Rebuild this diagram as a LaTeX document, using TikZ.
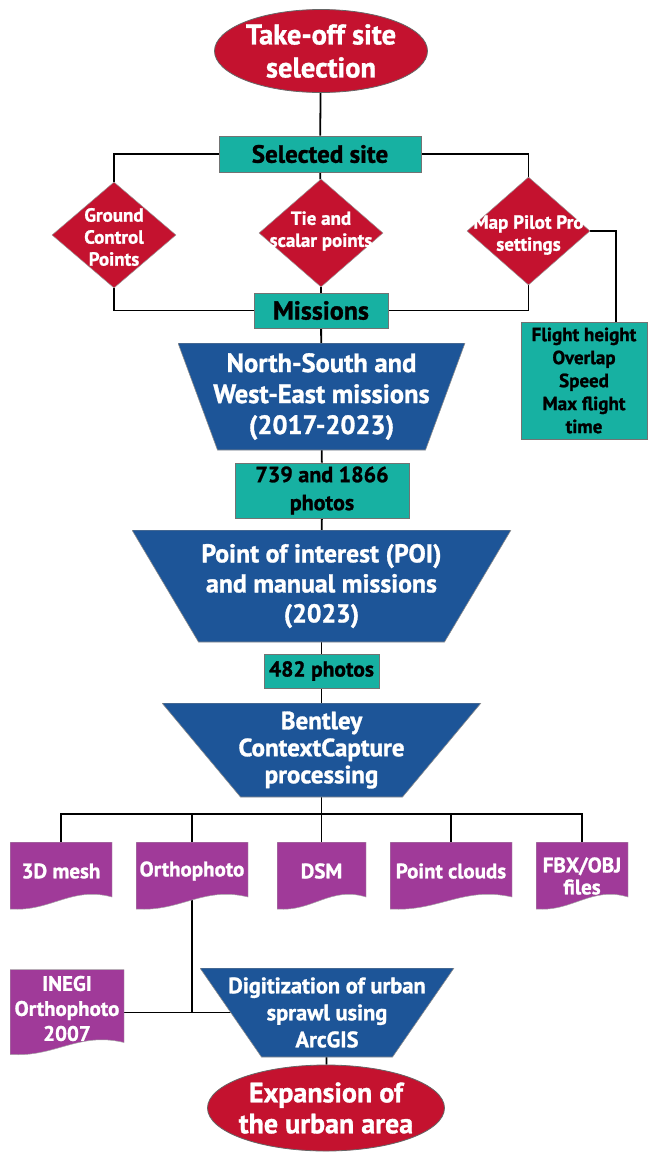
\documentclass[tikz,border=0pt]{standalone}
\usepackage{fontspec}
\setmainfont{PT Sans}[BoldFeatures={FakeBold=1.2}]
\usetikzlibrary{shapes.geometric,calc}
\definecolor{fcred}{HTML}{C4122F}
\definecolor{fcteal}{HTML}{17B1A2}
\definecolor{fcblue}{HTML}{1D5598}
\definecolor{fcpurple}{HTML}{A03A99}
\pgfdeclarelayer{background}
\pgfsetlayers{background,main}
\tikzset{
  fs/.style 2 args={font=\fontsize{#1}{#2}\selectfont\bfseries},
  link/.style={draw=black, line width=1.8pt},
  oval/.style={ellipse, fill=fcred, draw=black!60, line width=0.8pt, inner sep=0pt},
  otext/.style={text=white, align=center, inner sep=0pt},
  tealbox/.style={rectangle, fill=fcteal, draw=black!55, line width=0.7pt, text=black,
    align=center, inner sep=0pt},
  dia/.style={diamond, fill=fcred, draw=black!40, line width=0.5pt, inner sep=0pt},
  dtext/.style={text=white, align=center, inner sep=0pt, fs={19}{22}},
  funnel/.style={rectangle, inner sep=0pt, text=white, align=center,
    path picture={\path[fill=fcblue, draw=black!45, line width=0.6pt]
      (path picture bounding box.north west) -- (path picture bounding box.north east)
      -- ($(path picture bounding box.south east)+(-#1,0)$)
      -- ($(path picture bounding box.south west)+(#1,0)$) -- cycle;}},
  doc/.style={rectangle, inner sep=0pt,
    path picture={\path[fill=fcpurple, draw=black!35, line width=0.5pt]
      (path picture bounding box.north west) -- (path picture bounding box.north east)
      -- ($(path picture bounding box.south east)+(0,-13)$)
      .. controls ($(path picture bounding box.south west)!0.6!(path picture bounding box.south east)+(0,-24)$)
      and ($(path picture bounding box.south west)!0.4!(path picture bounding box.south east)+(0,2)$)
      .. ($(path picture bounding box.south west)+(0,-1)$) -- cycle;}},
  doctext/.style={text=white, align=center, inner sep=0pt, fs={21}{22}},
}
\begin{document}
\begin{tikzpicture}[x=1pt, y=-1pt]
\useasboundingbox (0,0) rectangle (648,1157);

% start and site choice
\node[oval, minimum width=213pt, minimum height=83pt,
  label={[otext, fs={28.5}{33}]center:{Take-off site\\selection}}] (start) at (321,51) {};
\node[tealbox, minimum width=202pt, minimum height=36pt, fs={25}{28}] (site) at (320,154)
  {Selected site};

% the three inputs
\node[dia, minimum width=124pt, minimum height=106pt,
  label={[dtext, yshift=-2pt]center:{Ground\\Control\\Points}}] (gcp) at (114,235) {};
\node[dia, minimum width=124pt, minimum height=108pt,
  label={[dtext, yshift=2pt]center:{Tie and\\scalar points}}] (tie) at (321,233) {};
\node[dia, minimum width=123pt, minimum height=108pt,
  label={[dtext, yshift=-4pt]center:{Map Pilot Pro\\settings}}] (mpp) at (528.5,231) {};

\node[tealbox, minimum width=126pt, minimum height=117pt, fs={19}{23}] (flight) at (584,380.5)
  {Flight height\\Overlap\\Speed\\Max flight\\time};

\node[tealbox, minimum width=134pt, minimum height=35pt, fs={26}{28}] (mis) at (321,310.5)
  {Missions};

% acquisition
\node[funnel=39.5, minimum width=287pt, minimum height=107pt, fs={26.5}{31}] (ns) at (321.5,396.5)
  {North-South and\\West-East missions\\(2017-2023)};
\node[tealbox, minimum width=174pt, minimum height=55pt, fs={22}{28}] (p1) at (322,490.5)
  {739 and 1866\\photos};
\node[funnel=66.5, minimum width=379pt, minimum height=112pt, fs={25.8}{30}] (poi) at (321.5,586)
  {Point of interest (POI)\\and manual missions\\(2023)};
\node[tealbox, minimum width=115pt, minimum height=34pt, fs={21.5}{26}] (p2) at (321.5,671)
  {482 photos};
\node[funnel=78.5, minimum width=319pt, minimum height=94pt, fs={25}{27}] (cc) at (321.5,750)
  {Bentley\\ContextCapture\\processing};

% products
\coordinate (bus) at (321.5,814);
\node[doc, minimum width=102pt, minimum height=68pt,
  label={[doctext, yshift=5pt]center:{3D mesh}}] (mesh) at (61,876) {};
\node[doc, minimum width=112pt, minimum height=68pt,
  label={[doctext, yshift=5pt]center:{Orthophoto}}] (ortho) at (192,876) {};
\node[doc, minimum width=89pt, minimum height=68pt,
  label={[doctext, yshift=5pt]center:{DSM}}] (dsm) at (321.5,876) {};
\node[doc, minimum width=122pt, minimum height=68pt,
  label={[doctext, yshift=5pt]center:{Point clouds}}] (pc) at (451,876) {};
\node[doc, minimum width=92pt, minimum height=68pt,
  label={[doctext, yshift=0pt]center:{FBX/OBJ\\files}}] (fbx) at (582,876) {};

% urban sprawl
\node[doc, minimum width=114pt, minimum height=86pt,
  label={[doctext, fs={21}{25}, yshift=4pt]center:{INEGI\\Orthophoto\\2007}}] (inegi) at (67,1012.5) {};
\node[funnel=61.5, minimum width=254pt, minimum height=89pt, fs={22.4}{27}] (dig) at (327,1012.5)
  {Digitization of urban\\sprawl using\\ArcGIS};
\coordinate (digin) at ($(dig.west)+(31,0)$);
\node[oval, minimum width=237pt, minimum height=86pt,
  label={[otext, fs={28}{31}]center:{Expansion of\\the urban area}}] (end) at (326,1108) {};

% connectors
\begin{pgfonlayer}{background}
  \draw[link] (start) -- (site);
  \draw[link] (site.west) -| (gcp.north);
  \draw[link] (site.east) -| (mpp.north);
  \draw[link] (site) -- (tie);
  \draw[link] (gcp.south) |- (mis.west);
  \draw[link] (mpp.south) |- (mis.east);
  \draw[link] (tie) -- (mis);
  \draw[link] (mpp.east) -| ([xshift=32pt]flight.north);
  \draw[link] (mis) -- (ns);
  \draw[link] (ns) -- (p1);
  \draw[link] (p1) -- (poi);
  \draw[link] (poi) -- (p2);
  \draw[link] (p2) -- (cc);
  \draw[link] (cc) -- (bus);
  \draw[link] (mesh.north) |- (bus) -| (fbx.north);
  \draw[link] (ortho.north) -- (ortho.north |- bus);
  \draw[link] (dsm.north) -- (dsm.north |- bus);
  \draw[link] (pc.north) -- (pc.north |- bus);
  \draw[link] (ortho.center) |- (digin);
  \draw[link] (inegi.east) -- (digin);
  \draw[link] (dig) -- (end);
\end{pgfonlayer}
\end{tikzpicture}
\end{document}
